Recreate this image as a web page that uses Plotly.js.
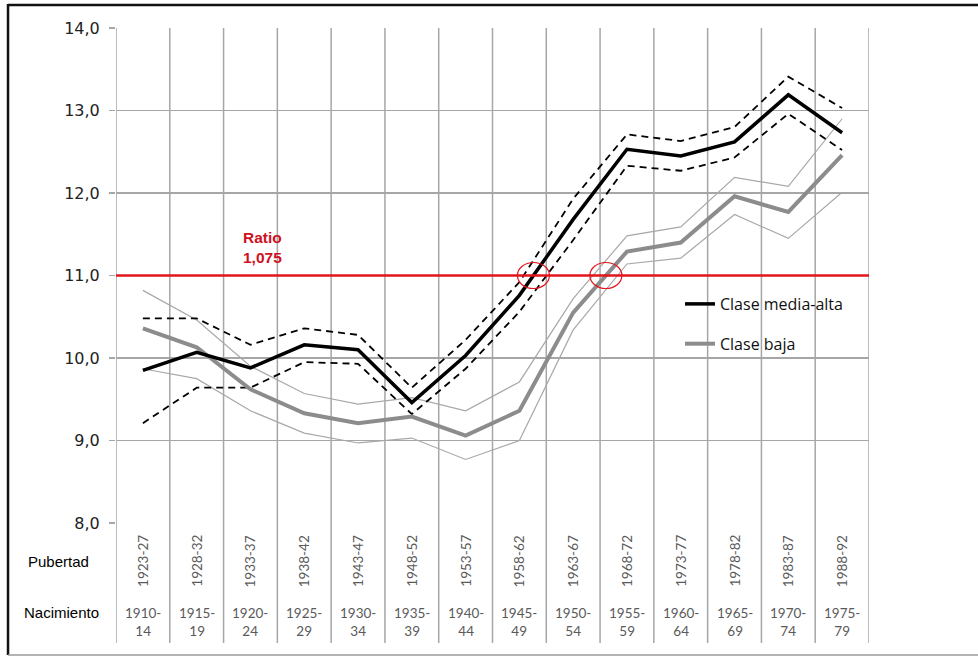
<!DOCTYPE html>
<html>
<head>
<meta charset="utf-8">
<script src="https://cdn.plot.ly/plotly-3.0.1.min.js"></script>
<style>
  html, body { margin: 0; padding: 0; background: #ffffff; }
  #grafico { width: 978px; height: 657px; }
</style>
</head>
<body>
<div id="grafico"></div>
<script>
// Cohortes: año de pubertad y año de nacimiento
const cohortesPubertad = ['1923-27', '1928-32', '1933-37', '1938-42', '1943-47', '1948-52', '1953-57',
  '1958-62', '1963-67', '1968-72', '1973-77', '1978-82', '1983-87', '1988-92'];
const cohortesNacimiento = ['1910-14', '1915-19', '1920-24', '1925-29', '1930-34', '1935-39', '1940-44',
  '1945-49', '1950-54', '1955-59', '1960-64', '1965-69', '1970-74', '1975-79'];

// Clase media-alta: estimación central y límites del intervalo
const mediaAlta    = [9.85, 10.07, 9.88, 10.16, 10.10, 9.46, 10.03, 10.76, 11.68, 12.53, 12.45, 12.62, 13.19, 12.73];
const mediaAltaSup = [10.48, 10.48, 10.16, 10.36, 10.28, 9.64, 10.22, 10.92, 11.93, 12.71, 12.63, 12.80, 13.41, 13.03];
const mediaAltaInf = [9.21, 9.64, 9.64, 9.95, 9.93, 9.32, 9.87, 10.56, 11.43, 12.33, 12.27, 12.43, 12.96, 12.52];

// Clase baja: estimación central y límites del intervalo
const baja    = [10.36, 10.13, 9.62, 9.33, 9.21, 9.29, 9.06, 9.36, 10.55, 11.29, 11.40, 11.96, 11.77, 12.46];
const bajaSup = [10.82, 10.46, 9.90, 9.57, 9.44, 9.52, 9.36, 9.71, 10.72, 11.48, 11.59, 12.19, 12.08, 12.90];
const bajaInf = [9.87, 9.75, 9.36, 9.09, 8.97, 9.03, 8.77, 9.00, 10.34, 11.14, 11.21, 11.74, 11.45, 12.01];

// Nivel de referencia y su etiqueta
const nivelRatio = 11.0;
const etiquetaRatio = ['Ratio', '1,075'];

const xIdx = cohortesPubertad.map((_, i) => i);
const nCat = cohortesPubertad.length;

// Punto donde una serie cruza el nivel de referencia (interpolación entre cohortes)
function cruce(serie, nivel) {
  for (let i = 0; i < serie.length - 1; i++) {
    if (serie[i] < nivel && serie[i + 1] >= nivel) {
      return i + (nivel - serie[i]) / (serie[i + 1] - serie[i]);
    }
  }
  return null;
}

const NEGRO = '#000000';
const GRIS = '#8c8c8c';
const GRIS_FINO = '#a8a8a8';
const ROJO = '#e3141c';
const GRID = '#a6a6a6';

const traces = [
  { x: xIdx, y: bajaSup, mode: 'lines', line: { color: GRIS_FINO, width: 1.2 }, showlegend: false, hoverinfo: 'skip' },
  { x: xIdx, y: bajaInf, mode: 'lines', line: { color: GRIS_FINO, width: 1.2 }, showlegend: false, hoverinfo: 'skip' },
  { x: xIdx, y: mediaAltaSup, mode: 'lines', line: { color: NEGRO, width: 1.8, dash: '7px,5px' }, showlegend: false, hoverinfo: 'skip' },
  { x: xIdx, y: mediaAltaInf, mode: 'lines', line: { color: NEGRO, width: 1.8, dash: '7px,5px' }, showlegend: false, hoverinfo: 'skip' },
  { x: xIdx, y: baja, mode: 'lines', name: 'Clase baja', legendgroup: 'b', legendrank: 2,
    line: { color: GRIS, width: 4 } },
  { x: xIdx, y: mediaAlta, mode: 'lines', name: 'Clase media-alta', legendgroup: 'a', legendrank: 1,
    line: { color: NEGRO, width: 3.5 } }
];

// Área de trazado en píxeles: x 116..869, y 28..523
const shapes = [];
// Separadores de categoría (se prolongan por la zona de etiquetas)
for (let i = 0; i <= nCat; i++) {
  shapes.push({ type: 'line', xref: 'x', yref: 'paper', x0: i - 0.5, x1: i - 0.5, y0: -0.2424, y1: 1,
    line: { color: GRID, width: 1.5 }, layer: 'below' });
}
// Línea del ratio
shapes.push({ type: 'line', xref: 'x', yref: 'y', x0: -0.5, x1: nCat - 0.5, y0: nivelRatio, y1: nivelRatio,
  line: { color: ROJO, width: 2.5 }, layer: 'above' });
// Círculos en los cruces
[cruce(mediaAlta, nivelRatio), cruce(baja, nivelRatio)].forEach(xc => {
  if (xc === null) return;
  shapes.push({ type: 'circle', xref: 'x', yref: 'y', xsizemode: 'pixel', ysizemode: 'pixel',
    xanchor: xc, yanchor: nivelRatio, x0: -16, x1: 16, y0: -13, y1: 13,
    line: { color: ROJO, width: 1.2 }, layer: 'above' });
});
// Marco exterior
shapes.push({ type: 'line', xref: 'paper', yref: 'paper', x0: -0.1434, x1: 1.15, y0: 1.0465, y1: 1.0465,
  line: { color: '#111', width: 2.5 } });
shapes.push({ type: 'line', xref: 'paper', yref: 'paper', x0: -0.1434, x1: -0.1434, y0: 1.0485, y1: -0.2667,
  line: { color: '#111', width: 2.5 } });
shapes.push({ type: 'line', xref: 'paper', yref: 'paper', x0: -0.1434, x1: 1.15, y0: -0.2667, y1: -0.2667,
  line: { color: '#9a9a9a', width: 1.5 } });

const annotations = [];
cohortesPubertad.forEach((lab, i) => {
  annotations.push({ x: i, y: -0.0768, xref: 'x', yref: 'paper', text: lab, showarrow: false, textangle: -90,
    font: { family: 'Lato, Open Sans, sans-serif', size: 13.5, color: '#5a5a5a' }, xanchor: 'center', yanchor: 'middle' });
});
cohortesNacimiento.forEach((lab, i) => {
  const partes = lab.split('-');
  annotations.push({ x: i, y: -0.2, xref: 'x', yref: 'paper', text: partes[0] + '-<br>' + partes[1], showarrow: false,
    font: { family: 'Lato, Open Sans, sans-serif', size: 13.5, color: '#5a5a5a' }, xanchor: 'center', yanchor: 'middle',
    align: 'center' });
});
annotations.push({ x: -0.0757, y: -0.0768, xref: 'paper', yref: 'paper', text: 'Pubertad', showarrow: false,
  font: { family: 'Liberation Sans, Arial, sans-serif', size: 15, color: '#000' }, xanchor: 'center', yanchor: 'middle' });
annotations.push({ x: -0.0730, y: -0.1818, xref: 'paper', yref: 'paper', text: 'Nacimiento', showarrow: false,
  font: { family: 'Liberation Sans, Arial, sans-serif', size: 15, color: '#000' }, xanchor: 'center', yanchor: 'middle' });
annotations.push({ x: 2.23, y: 11.34, xref: 'x', yref: 'y', text: '<b>' + etiquetaRatio.join('<br>') + '</b>',
  showarrow: false, font: { family: 'Liberation Sans, Arial, sans-serif', size: 15.5, color: '#d01020' },
  xanchor: 'center', yanchor: 'middle', align: 'center' });

const layout = {
  width: 978, height: 657,
  margin: { l: 116, r: 109, t: 28, b: 134 },
  paper_bgcolor: '#ffffff', plot_bgcolor: '#ffffff',
  separators: ',.',
  showlegend: true,
  legend: {
    x: 0.749, y: 0.4768, xanchor: 'left', yanchor: 'top',
    bgcolor: 'rgba(0,0,0,0)', traceorder: 'grouped', tracegroupgap: 16,
    font: { family: 'Open Sans, sans-serif', size: 16, color: '#111' }
  },
  xaxis: {
    range: [-0.5, nCat - 0.5], showgrid: false, zeroline: false, showticklabels: false,
    showline: false, ticks: '', fixedrange: true
  },
  yaxis: {
    range: [8, 14], dtick: 1, tick0: 8, tickformat: '.1f',
    showgrid: true, gridcolor: GRID, gridwidth: 1.5, zeroline: false, showline: false,
    ticks: 'outside', ticklen: 6, tickcolor: GRID, tickwidth: 1.5, ticklabelstandoff: 6,
    tickfont: { family: 'DejaVu Sans, Verdana, sans-serif', size: 16, color: '#222' }
  },
  shapes: shapes,
  annotations: annotations
};

Plotly.newPlot('grafico', traces, layout, { displayModeBar: false, staticPlot: true });
</script>
</body>
</html>
